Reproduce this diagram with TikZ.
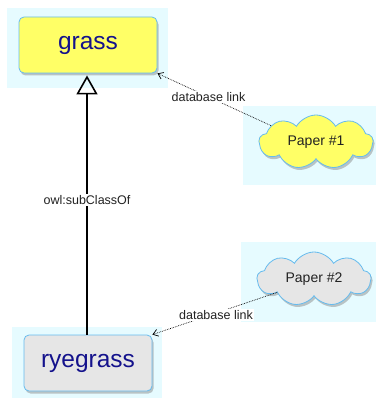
\documentclass[tikz,border=0pt]{standalone}
\usepackage{fontspec}
\setmainfont{Liberation Sans}
\usetikzlibrary{shapes.symbols,shadows,arrows.meta}
\definecolor{bgcyan}{HTML}{E6FBFF}
\definecolor{boxyellow}{HTML}{FFFF66}
\definecolor{boxgray}{HTML}{E6E6E6}
\definecolor{edgeblue}{HTML}{66BBEE}
\definecolor{navy}{HTML}{14128C}
\definecolor{txt}{HTML}{222222}
\tikzset{
  backdrop/.style={fill=bgcyan, draw=none},
  classbox/.style={draw=edgeblue, line width=0.8pt, rounded corners=5pt, minimum width=138pt, minimum height=56pt,
     text=navy, font=\fontsize{24.5}{26}\selectfont, drop shadow={shadow xshift=1.5pt, shadow yshift=-2.5pt, fill=black!45, opacity=0.5}},
  paper/.style={cloud, cloud puffs=9, cloud puff arc=120, aspect=2.1, draw=edgeblue, line width=0.8pt,
     minimum width=114pt, minimum height=54pt, inner sep=0pt, text=txt, font=\fontsize{14}{16}\selectfont,
     drop shadow={shadow xshift=1.5pt, shadow yshift=-2.5pt, fill=black!45, opacity=0.5}},
  dblink/.style={densely dotted, line width=0.7pt, -{Straight Barb[length=5pt,width=7pt]}},
  edgelabel/.style={fill=white, inner sep=1.5pt, text=txt, font=\fontsize{12.5}{14}\selectfont},
  subclass/.style={line width=1.6pt, -{Triangle[open, length=19pt, width=21pt, line width=1.6pt]}}
}
\begin{document}
\begin{tikzpicture}[x=1pt,y=-1pt]
\useasboundingbox (0,0) rectangle (376,398);
% backdrops
\fill[backdrop] (7,8) rectangle (168,88);
\fill[backdrop] (12,327) rectangle (162,398);
\fill[backdrop] (243,106) rectangle (376,185);
\fill[backdrop] (241,242) rectangle (376,322);
% nodes
\node[classbox, fill=boxyellow] (grass) at (88,45) {grass};
\node[classbox, fill=boxgray, minimum width=128pt] (ryegrass) at (88,363) {ryegrass};
\node[paper, fill=boxyellow] (p1) at (316,142) {Paper \#1};
\node[paper, fill=boxgray] (p2) at (314,279) {Paper \#2};
% connectors
\draw[subclass] (ryegrass.north -| 87,0) -- node[edgelabel, pos=0.52] {owl:subClassOf} ([yshift=-2pt]grass.south -| 87,0);
\draw[dblink] (p1.160) -- node[edgelabel, pos=0.55] {database link} (grass.south east);
\draw[dblink] (p2.200) -- node[edgelabel, pos=0.49, yshift=-2pt] {database link} (ryegrass.north east);
\end{tikzpicture}
\end{document}
